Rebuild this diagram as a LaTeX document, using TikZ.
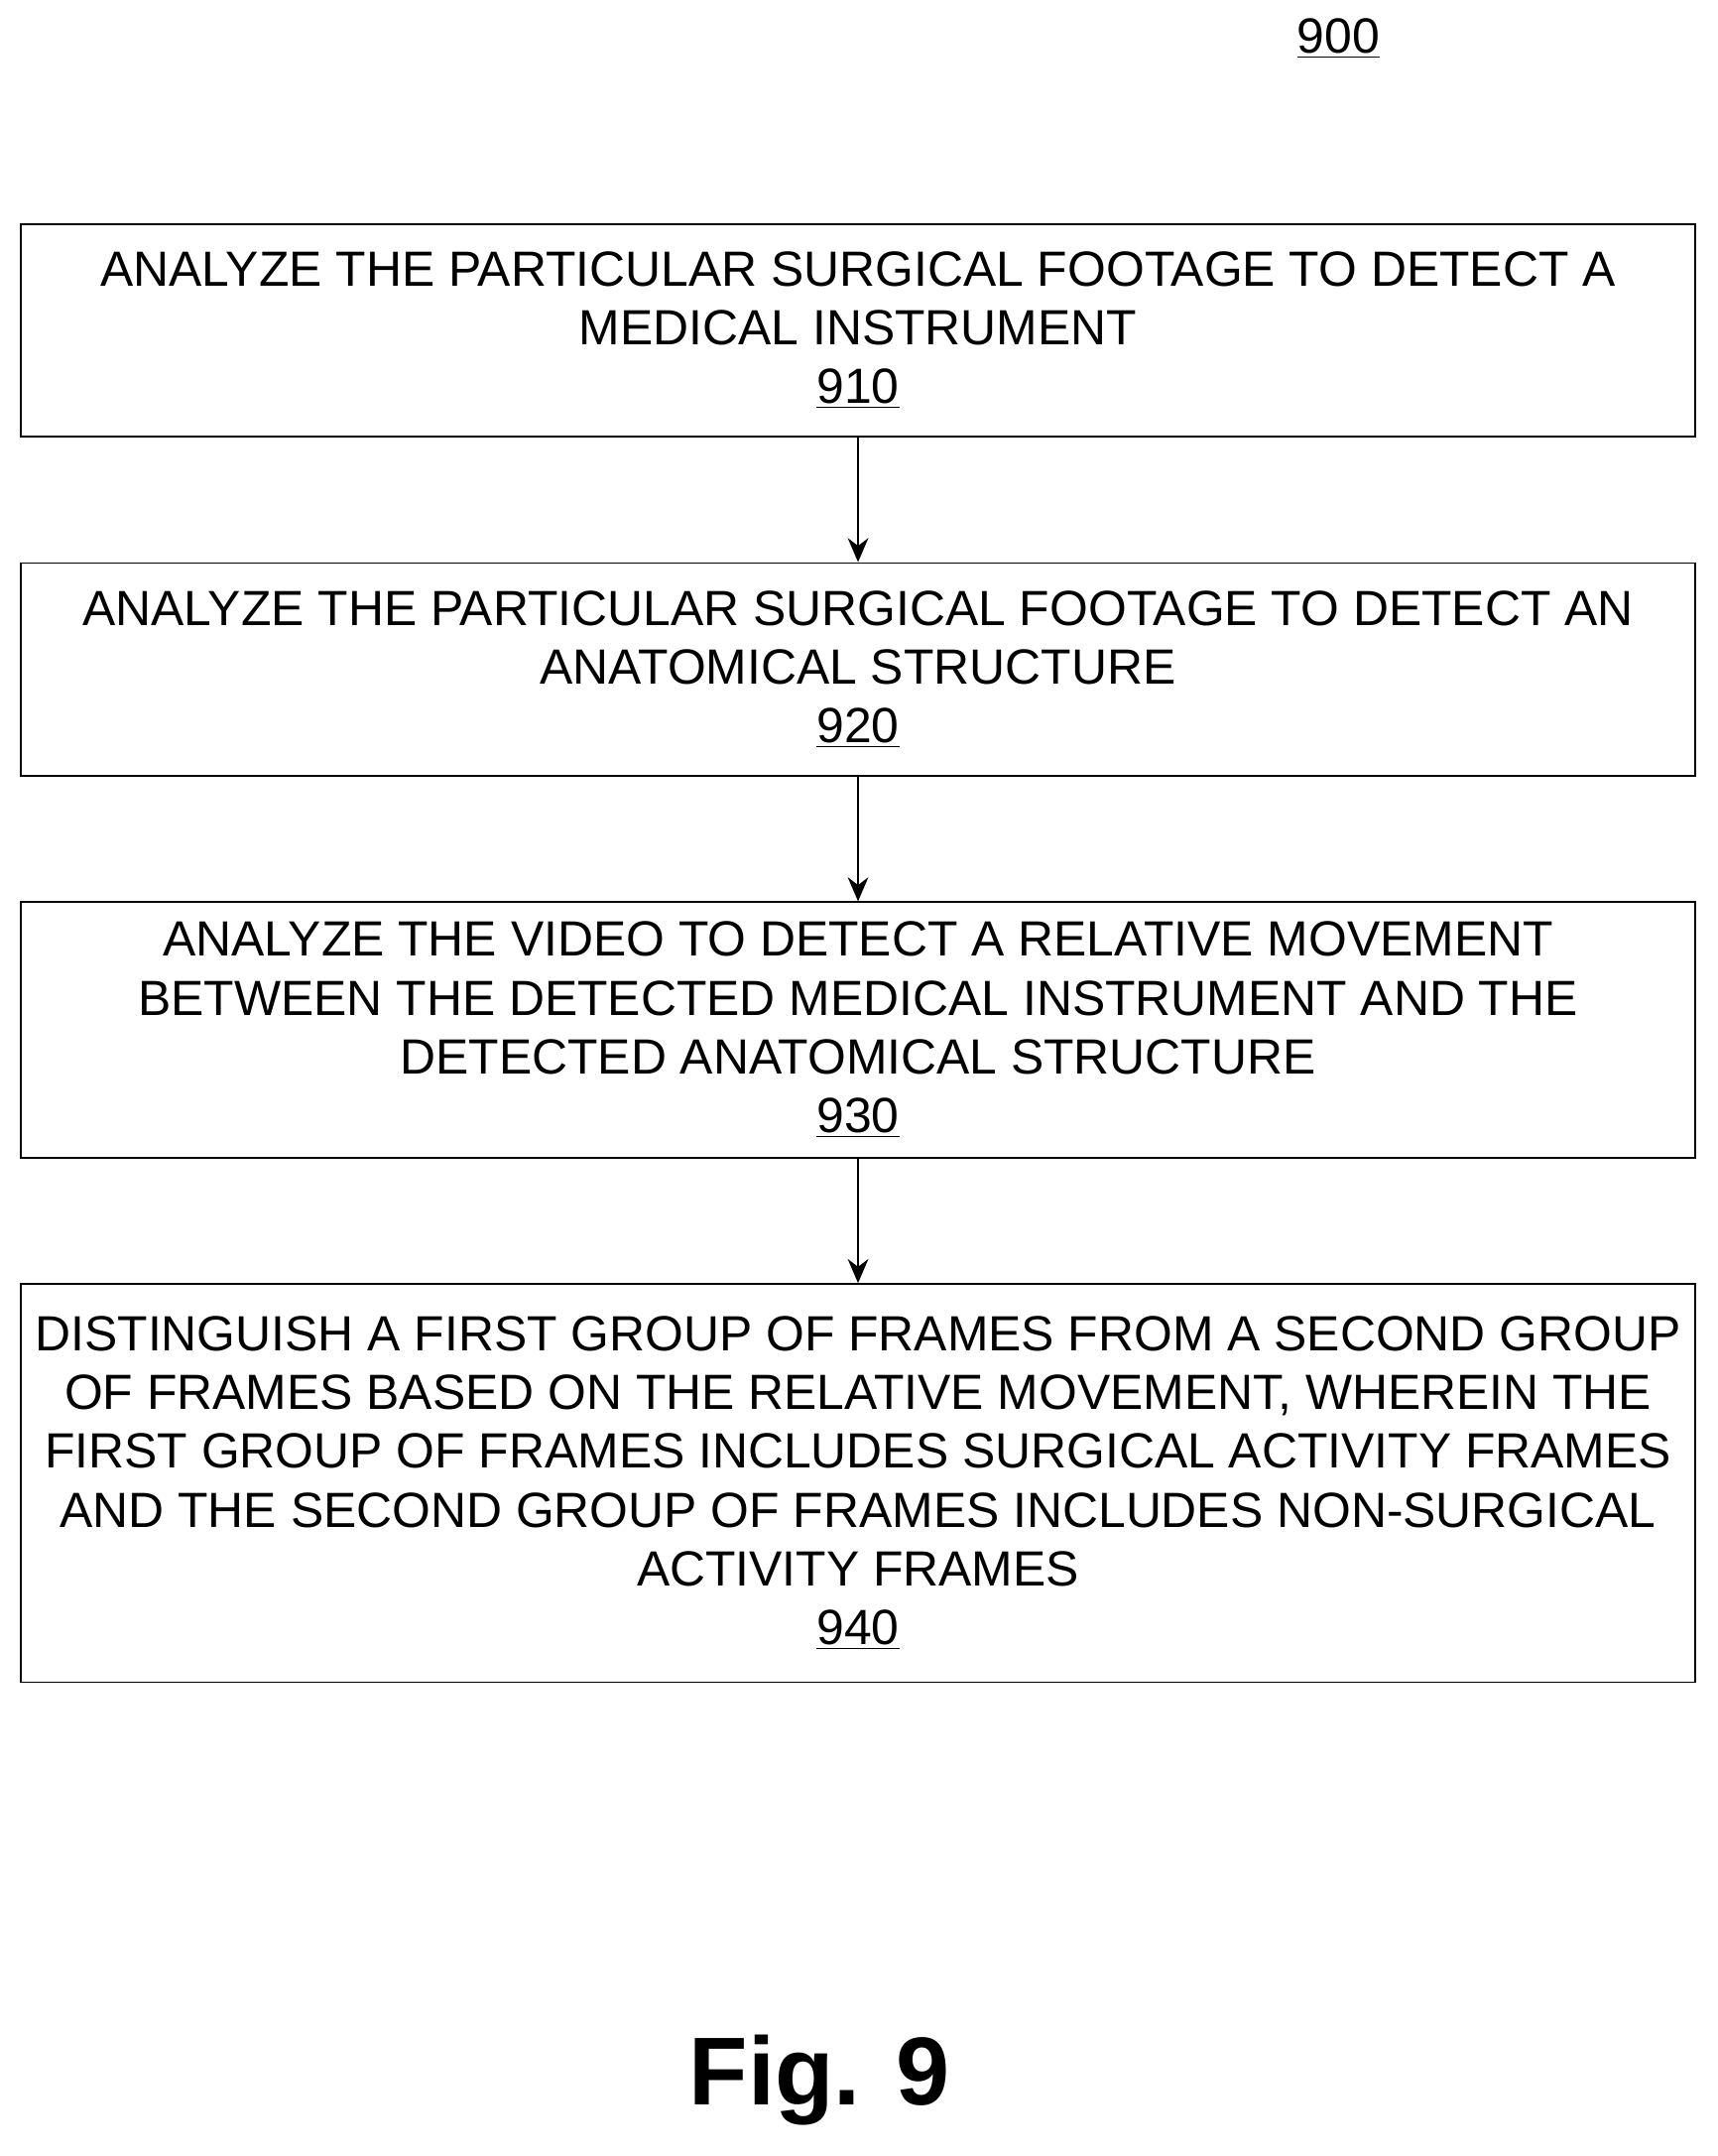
\documentclass[tikz,border=0pt]{standalone}
\usepackage{fontspec}
\setmainfont{Liberation Sans}
\usetikzlibrary{arrows.meta,positioning}
\tikzset{
  flowstep/.style={draw,thick,minimum width=24.4cm,align=center,inner sep=0pt,
    font=\fontsize{20.5}{24.4}\selectfont},
  flow/.style={-{Stealth[length=3.5mm,width=3mm]},thick}
}
\begin{document}
\begin{tikzpicture}[x=0.02cm,y=-0.02cm]
  \useasboundingbox (0,0) rectangle (1251,1570);
  \node[font=\fontsize{20.5}{24}\selectfont] (num) at (975,28) {\underline{900}};
  \node[flowstep,minimum height=3.1cm] (s910) at (625,240.5)
    {ANALYZE THE PARTICULAR SURGICAL FOOTAGE TO DETECT A\\MEDICAL INSTRUMENT\\\underline{910}};
  \node[flowstep,minimum height=3.1cm] (s920) at (625,487.5)
    {ANALYZE THE PARTICULAR SURGICAL FOOTAGE TO DETECT AN\\ANATOMICAL STRUCTURE\\\underline{920}};
  \node[flowstep,minimum height=3.72cm] (s930) at (625,750)
    {ANALYZE THE VIDEO TO DETECT A RELATIVE MOVEMENT\\BETWEEN THE DETECTED MEDICAL INSTRUMENT AND THE\\DETECTED ANATOMICAL STRUCTURE\\\underline{930}};
  \node[flowstep,minimum height=5.8cm] (s940) at (625,1080)
    {DISTINGUISH A FIRST GROUP OF FRAMES FROM A SECOND GROUP\\OF FRAMES BASED ON THE RELATIVE MOVEMENT, WHEREIN THE\\FIRST GROUP OF FRAMES INCLUDES SURGICAL ACTIVITY FRAMES\\AND THE SECOND GROUP OF FRAMES INCLUDES NON-SURGICAL\\ACTIVITY FRAMES\\\underline{940}};
  \draw[flow] (s910) -- (s920);
  \draw[flow] (s920) -- (s930);
  \draw[flow] (s930) -- (s940);
  \node[font=\fontsize{40}{44}\selectfont\bfseries] (fig) at (597,1515) {Fig. 9};
\end{tikzpicture}
\end{document}
